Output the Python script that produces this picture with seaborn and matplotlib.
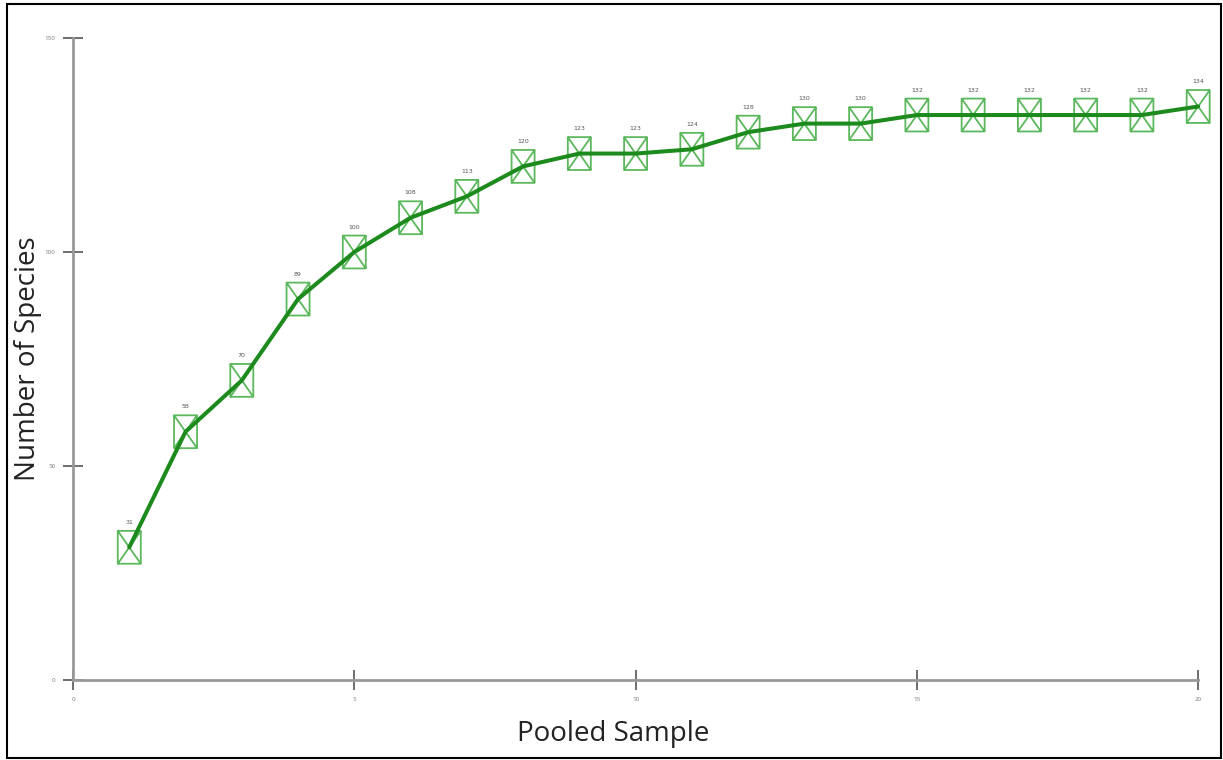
import numpy as np
import pandas as pd
import matplotlib.pyplot as plt
import seaborn as sns
from matplotlib.path import Path
from matplotlib.patches import Rectangle

sns.set_style("white")
plt.rcParams['font.family'] = ['Open Sans', 'DejaVu Sans']

# dados da curva de acumulação
pooled_sample = list(range(1, 21))
n_species = [31, 58, 70, 89, 100, 108, 113, 120, 123, 123,
             124, 128, 130, 130, 132, 132, 132, 132, 132, 134]
x_ticks = [0, 5, 10, 15, 20]
y_ticks = [0, 50, 100, 150]

df = pd.DataFrame({"sample": pooled_sample, "species": n_species})

# marcador: retangulo com um X dentro
w, h = 0.35, 0.5
box_x = Path(
    [(-w, -h), (w, -h), (w, h), (-w, h), (-w, -h), (w, h), (-w, h), (w, -h)],
    [Path.MOVETO, Path.LINETO, Path.LINETO, Path.LINETO, Path.LINETO,
     Path.LINETO, Path.MOVETO, Path.LINETO],
)

fig = plt.figure(figsize=(12.23, 7.6), dpi=100)
ax = fig.add_axes([0.0597, 0.1053, 0.92, 0.8447])

sns.scatterplot(data=df, x="sample", y="species", marker=box_x, s=560,
                facecolor="none", edgecolor="#5cb85c", linewidth=1.3,
                zorder=2, clip_on=False, ax=ax)
sns.lineplot(data=df, x="sample", y="species", color="#1c8a1c",
             linewidth=2.9, zorder=3, clip_on=False, ax=ax)

for xv, yv in zip(pooled_sample, n_species):
    ax.text(xv, yv + 5.2, str(yv), ha="center", va="bottom",
            fontsize=4.5, color="#555555", family="DejaVu Sans")

ax.set_xlim(0, 20)
ax.set_ylim(0, 150)
ax.set_xticks(x_ticks)
ax.set_yticks(y_ticks)
ax.tick_params(axis="both", direction="inout", length=15, width=1.2,
               color="#555555", labelsize=4.5, labelcolor="#777777",
               bottom=True, left=True, pad=5)
for s in ["top", "right"]:
    ax.spines[s].set_visible(False)
for s in ["left", "bottom"]:
    ax.spines[s].set_color("#999999")
    ax.spines[s].set_linewidth(2)

ax.set_xlabel("Pooled Sample", fontsize=20, color="#222222")
ax.set_ylabel("Number of Species", fontsize=20, color="#222222")
ax.xaxis.set_label_coords(0.48, -0.063)
ax.yaxis.set_label_coords(-0.028, 0.5)

# moldura da imagem
fig.patches.append(Rectangle((0.006, 0.002), 0.992, 0.993, transform=fig.transFigure,
                             fill=False, edgecolor="black", linewidth=1.5))

fig.savefig("out.png", dpi=100)
